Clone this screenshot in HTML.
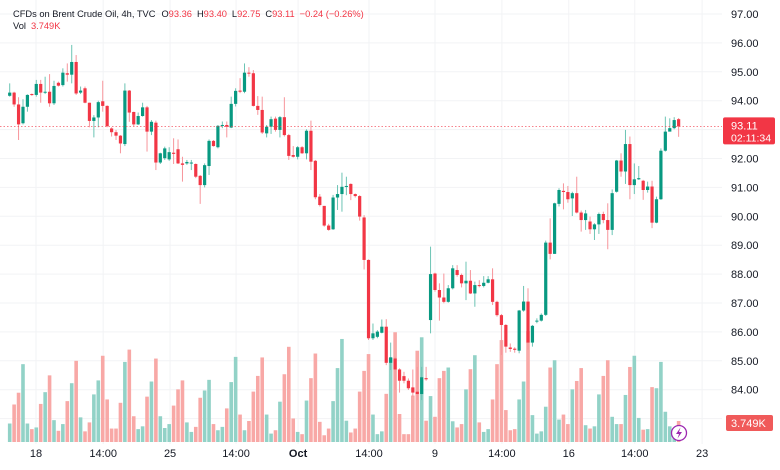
<!DOCTYPE html>
<html><head><meta charset="utf-8">
<style>
html,body{margin:0;padding:0;background:#fff;}
svg{display:block;font-family:"Liberation Sans",sans-serif;}
</style></head>
<body>
<svg id="chart" width="780" height="470" viewBox="0 0 780 470" xmlns="http://www.w3.org/2000/svg">
<rect width="780" height="470" fill="#fff"/>
<g id="grid"></g>
<g id="vol"></g>
<g id="candles"></g>
<g id="axes"></g>
<text x="13" y="17" font-size="9.3" fill="#131722">CFDs on Brent Crude Oil, 4h, TVC<tspan dx="6">O</tspan><tspan fill="#f23645">93.36</tspan><tspan dx="5">H</tspan><tspan fill="#f23645">93.40</tspan><tspan dx="5">L</tspan><tspan fill="#f23645">92.75</tspan><tspan dx="5">C</tspan><tspan fill="#f23645">93.11</tspan><tspan dx="5" fill="#f23645">−0.24 (−0.26%)</tspan></text>
<text x="13" y="29" font-size="9.3" fill="#131722">Vol<tspan dx="5" fill="#f23645">3.749K</tspan></text>
</svg>
<script>
const opens=[94.17,94.28,93.87,93.22,93.79,94.23,94.20,94.58,94.28,94.31,93.91,94.62,94.54,94.95,94.90,95.34,94.28,94.43,93.93,93.30,93.42,93.98,93.82,93.04,92.91,92.79,92.50,94.35,93.61,93.18,93.47,93.77,92.93,93.24,91.86,92.01,91.97,92.20,92.32,91.83,91.83,91.84,91.81,91.40,91.08,91.74,92.61,92.39,93.13,93.16,93.07,93.89,94.35,94.31,94.97,94.95,93.82,93.68,92.87,93.10,93.38,92.99,93.43,92.81,92.12,92.06,92.39,92.18,92.96,91.92,90.68,90.36,89.68,89.55,90.65,90.77,91.02,91.12,90.77,90.70,89.96,88.49,85.78,85.83,85.97,86.18,84.93,85.08,84.70,84.47,84.31,84.08,83.93,83.85,84.40,86.41,88.02,87.45,87.19,87.04,87.51,88.14,87.97,87.68,87.77,87.33,87.62,87.59,87.70,87.82,87.04,86.58,86.24,85.46,85.42,85.35,86.74,87.05,85.63,86.36,86.39,86.59,89.09,88.70,90.43,90.88,90.84,90.62,90.80,90.13,89.87,89.82,89.55,89.72,90.08,89.87,89.53,90.85,91.93,91.55,92.50,91.08,91.28,91.23,90.91,91.03,89.78,90.59,92.27,92.93,93.05,93.36];
const highs=[94.60,94.31,94.12,94.05,94.22,94.25,94.72,94.72,94.83,94.92,94.69,94.66,95.12,95.29,95.93,95.58,94.49,94.49,93.93,93.50,94.00,94.69,93.84,93.08,92.99,92.81,94.60,94.37,93.62,93.59,93.93,93.82,93.33,93.31,92.20,92.41,92.39,92.70,92.66,92.06,91.95,91.95,91.83,91.43,91.83,92.66,92.64,93.16,93.28,93.28,94.14,94.43,94.78,95.29,95.16,95.06,94.16,94.14,93.16,93.45,93.45,93.47,94.12,92.85,92.43,92.43,92.43,93.01,93.31,91.95,90.77,90.36,89.74,90.74,91.08,91.51,91.37,91.14,90.79,90.73,90.04,88.51,86.29,86.06,86.43,86.44,85.63,85.14,84.74,84.62,84.39,84.70,84.79,84.79,84.79,88.95,88.05,87.68,88.02,87.62,88.31,88.31,88.02,88.43,88.14,87.74,87.79,87.93,87.93,88.20,87.08,86.62,86.27,85.60,85.47,86.76,87.59,87.51,86.24,86.47,86.64,89.16,89.93,90.47,90.97,91.14,91.05,90.85,91.37,90.20,90.22,89.99,89.76,90.13,90.16,90.45,90.93,91.95,92.18,92.99,92.76,91.83,91.74,91.26,91.20,91.23,90.68,92.35,93.45,93.39,93.43,93.40];
const lows=[94.14,93.79,92.64,93.18,93.62,94.17,94.14,93.93,94.23,93.79,93.85,94.49,94.49,94.66,94.60,94.20,94.23,93.91,93.08,92.73,93.08,93.62,93.08,92.76,92.64,92.18,92.43,93.27,93.12,93.16,93.45,92.24,92.81,91.60,91.81,91.95,91.92,91.81,91.81,91.20,91.78,91.60,91.32,90.43,91.00,91.43,92.41,92.35,93.05,92.73,93.05,93.80,94.26,94.26,94.83,93.80,93.51,92.85,92.73,92.85,92.93,92.73,92.76,91.95,92.03,91.97,92.16,91.97,91.60,90.59,90.34,89.64,89.50,89.53,90.22,90.16,90.73,90.56,90.65,89.85,88.16,85.72,85.72,85.78,85.95,84.85,84.68,83.99,83.90,84.22,83.99,83.76,83.64,83.64,84.31,85.95,87.39,86.39,86.99,87.01,87.47,87.91,87.54,87.10,87.31,86.87,87.54,87.54,87.68,86.93,86.53,85.20,85.28,85.31,85.28,85.26,86.70,85.38,85.49,86.30,86.36,86.55,88.51,88.70,90.34,90.24,90.47,90.01,90.10,89.47,89.53,89.39,89.18,89.39,89.76,88.86,89.35,90.82,91.37,91.12,90.59,90.77,91.26,90.57,90.82,89.59,89.76,90.57,92.24,92.99,93.01,92.75];
const closes=[94.28,93.87,93.18,93.79,94.20,94.20,94.58,94.28,94.31,93.91,94.51,94.52,94.97,94.90,95.34,94.25,94.35,93.93,93.30,93.42,93.95,93.82,93.12,92.91,92.79,92.52,94.35,93.59,93.18,93.47,93.77,92.93,93.27,91.86,92.18,92.35,92.22,92.16,91.83,91.78,91.88,91.86,91.37,91.08,91.77,92.61,92.43,93.13,93.16,93.10,93.89,94.34,94.31,94.97,94.95,93.82,93.68,92.90,93.10,93.36,92.99,93.43,92.81,92.09,92.06,92.39,92.18,92.96,91.89,90.66,90.39,89.68,89.53,90.65,90.77,91.02,91.05,90.77,90.70,89.99,88.49,85.78,85.95,86.01,86.18,84.93,85.12,84.70,84.31,84.31,84.05,83.90,83.85,84.43,84.36,88.00,87.45,87.19,87.04,87.51,88.20,87.97,87.68,87.77,87.33,87.62,87.59,87.70,87.82,87.04,86.58,86.24,85.49,85.41,85.38,86.74,87.05,85.63,86.21,86.39,86.59,89.09,88.70,90.45,90.91,90.84,90.59,90.80,90.13,89.87,90.10,89.55,89.72,90.08,89.87,89.53,90.80,91.93,91.55,92.50,91.08,91.28,91.32,90.91,91.03,89.78,90.59,92.27,92.93,93.05,93.33,93.11];
const volumes=[3.3,6.7,8.8,13.9,3.3,2.3,2.6,6.8,8.9,11.9,3.9,2.0,3.2,7.3,10.5,14.5,4.4,1.9,3.5,8.5,11.0,15.4,7.6,2.4,2.4,7.0,14.3,16.5,4.6,2.3,2.8,8.1,10.8,14.9,4.6,2.5,3.2,6.5,9.4,11.0,3.5,1.8,2.7,7.9,9.2,11.1,3.2,2.1,2.7,6.0,10.7,15.2,4.9,2.1,3.75,9.0,11.8,15.1,4.9,1.5,2.1,7.2,12.1,17.0,4.2,1.8,1.4,7.4,11.4,15.8,3.6,1.2,2.4,7.3,13.2,18.4,3.8,1.7,2.4,9.0,12.7,15.7,4.9,1.4,1.9,8.6,15.0,19.6,5.0,1.4,1.4,8.3,16.3,18.7,3.8,8.2,4.5,11.4,12.7,13.3,3.7,2.6,3.2,9.4,13.0,15.5,3.5,1.8,2.3,7.6,13.9,18.2,5.7,2.1,2.3,7.6,10.8,19.8,4.8,1.5,1.9,6.3,13.3,14.6,4.0,4.9,3.2,9.4,10.9,13.2,3.0,2.4,2.8,8.5,11.8,14.6,4.5,3.2,3.2,8.4,13.4,15.4,4.3,2.2,2.3,9.8,9.6,14.3,5.4,2.8,2.5,3.749];
const priceTicks=[97,96,95,94,93,92,91,90,89,88,87,86,85,84,83];
const timeLabels=["18","14:00","25","14:00","Oct","14:00","9","14:00","16","14:00","23"];
const timeIndex=[5.94,21.1,36.2,51.1,65.1,81.1,96.0,111.1,126.2,141.1,156.3];
const lastPrice=93.11, lastVolume="3.749K", countdown="02:11:34";

const NS="http://www.w3.org/2000/svg";
const xOf=i=>9.7+i*4.43;
const yOf=p=>14+(97-p)*28.9;
const yVol=v=>442-v*5.6;
function mk(tag,attrs,parent){const e=document.createElementNS(NS,tag);for(const k in attrs)e.setAttribute(k,attrs[k]);parent.appendChild(e);return e;}
const grid=document.getElementById('grid'),vol=document.getElementById('vol'),cg=document.getElementById('candles'),ax=document.getElementById('axes');

priceTicks.forEach(p=>{const l=mk('line',{x1:0,x2:722,y1:yOf(p),y2:yOf(p),stroke:'#f2f3f5','stroke-width':1},grid);

});
timeIndex.forEach(t=>{const l=mk('line',{x1:xOf(t),x2:xOf(t),y1:0,y2:444,stroke:'#f2f3f5','stroke-width':1},grid);

});

volumes.forEach((v,i)=>{const up=closes[i]>=opens[i];
const r=mk('rect',{x:xOf(i)-1.8,y:yVol(v),width:3.6,height:442-yVol(v),fill:up?'#92d2c7':'#f8a8a6'},vol);

});

opens.forEach((o,i)=>{const c=closes[i],up=c>=o,col=up?'#089981':'#f23645',x=xOf(i);
const w=mk('line',{x1:x,x2:x,y1:yOf(highs[i]),y2:yOf(lows[i]),stroke:up?'#6cc4b4':'#f7959b','stroke-width':1},cg);


const top=yOf(Math.max(o,c)),h=Math.max(1,Math.abs(yOf(o)-yOf(c)));
const b=mk('rect',{x:x-1.6,y:top,width:3.2,height:h,fill:col},cg);

});

const dl=mk('line',{x1:0,x2:722,y1:yOf(lastPrice),y2:yOf(lastPrice),stroke:'#f23645','stroke-width':0.8,'stroke-dasharray':'1.5 2','opacity':0.7},ax);



priceTicks.forEach(p=>{const t=mk('text',{x:731,y:yOf(p)+4,'font-size':11,fill:'#131722'},ax);t.textContent=p.toFixed(2);

});
timeLabels.forEach((s,k)=>{const t=mk('text',{x:xOf(timeIndex[k]),y:457,'font-size':11,fill:'#131722','text-anchor':'middle','font-weight':s==='Oct'?'bold':'normal'},ax);t.textContent=s;

});

const pb=mk('rect',{x:723,y:yOf(lastPrice)-9,width:52,height:27,rx:2,fill:'#f23645'},ax);


const pt=mk('text',{x:731,y:yOf(lastPrice)+3,'font-size':11,fill:'#fff'},ax);pt.textContent=lastPrice.toFixed(2);


const ct=mk('text',{x:731,y:yOf(lastPrice)+15,'font-size':10.5,fill:'#fff'},ax);ct.textContent=countdown;



const vb=mk('rect',{x:726,y:415,width:47,height:16,rx:2,fill:'#f05a5a'},ax);


const vt=mk('text',{x:731,y:427,'font-size':11,fill:'#fff'},ax);vt.textContent=lastVolume;



const ic=mk('circle',{cx:679,cy:433,r:7.5,fill:'#fff',stroke:'#9c27b0','stroke-width':1.3},ax);


const ig=mk('path',{d:'M680.5 427.5 L676 434 L679 434 L677.5 438.5 L682 432 L679 432 Z',fill:'#9c27b0'},ax);


</script>
</body></html>
